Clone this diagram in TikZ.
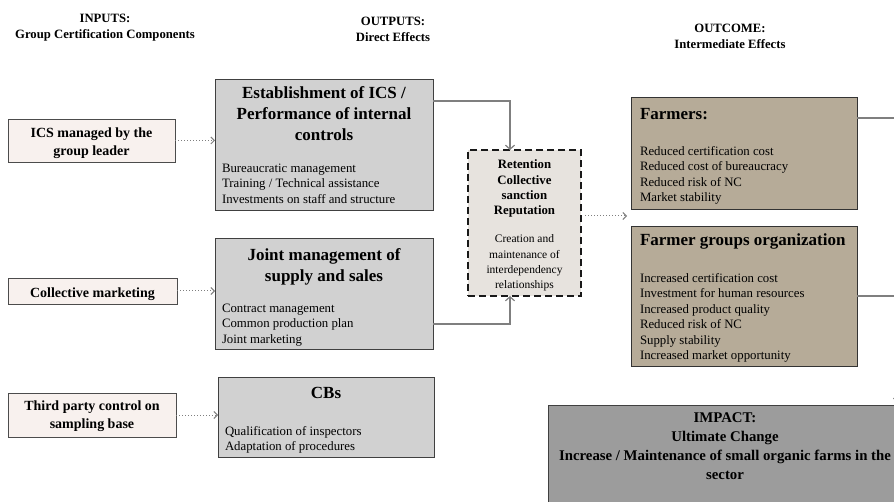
\documentclass[tikz,border=0pt]{standalone}
\usepackage{fontspec}
\setmainfont{Liberation Serif}
\usetikzlibrary{arrows.meta,calc}
\definecolor{inpfill}{HTML}{F8F1EE}
\definecolor{outfill}{HTML}{D1D1D1}
\definecolor{retfill}{HTML}{E7E3DE}
\definecolor{farmfill}{HTML}{B6AB98}
\definecolor{impfill}{HTML}{9C9C9C}
\definecolor{linegray}{HTML}{7F7F7F}
\begin{document}
\begin{tikzpicture}[x=1pt,y=-1pt,
  every node/.style={inner sep=0pt, outer sep=0pt},
  inbox/.style={draw=black!70, fill=inpfill, line width=0.9pt},
  intxt/.style={align=center, font=\fontsize{14}{18}\selectfont\bfseries},
  outbox/.style={draw=black!75, fill=outfill, line width=0.9pt},
  retbox/.style={draw=black!90, fill=retfill, line width=1.6pt, dash pattern=on 7pt off 4pt},
  farmbox/.style={draw=black!80, fill=farmfill, line width=0.9pt},
  impbox/.style={draw=black!75, fill=impfill, line width=0.9pt},
  ttl/.style={font=\fontsize{17}{21}\selectfont\bfseries, align=center},
  bodytxt/.style={font=\fontsize{12.8}{15.5}\selectfont, align=left},
  rettl/.style={font=\fontsize{12.8}{15.3}\selectfont\bfseries, align=center},
  retbody/.style={font=\fontsize{11.5}{15.3}\selectfont, align=center},
  hdr/.style={font=\fontsize{12.7}{16}\selectfont\bfseries, align=center},
  imptxt/.style={font=\fontsize{14.8}{19}\selectfont\bfseries, align=center},
  conn/.style={draw=linegray, line width=1.2pt, -{Straight Barb[length=4pt,width=9pt]}},
  plain/.style={draw=linegray, line width=1.2pt},
  dotarr/.style={draw=linegray, line width=1pt, dotted, -{Straight Barb[length=3.5pt,width=7pt]}},
]
\path[use as bounding box, clip] (0,0) rectangle (894,502);

% headers
\node[hdr] (hin) at (105,28) {INPUTS:\\Group Certification Components};
\node[hdr] (hout) at (393,29) {OUTPUTS:\\Direct Effects};
\node[hdr] (hoc) at (730,36) {OUTCOME:\\Intermediate Effects};

% inputs
\node[inbox, minimum width=167pt, minimum height=43pt] (ics) at (91.5,140.5) {};
\node[intxt] (icst) at (91.5,143) {ICS managed by the\\group leader};
\node[inbox, minimum width=169pt, minimum height=26pt] (coll) at (92.5,291) {};
\node[intxt] (collt) at (92.5,294) {Collective marketing};
\node[inbox, minimum width=168pt, minimum height=44pt] (third) at (92,415) {};
\node[intxt] (thirdt) at (92,416.5) {Third party control on\\sampling base};

% outputs
\node[outbox, minimum width=218pt, minimum height=131pt] (est) at (324,144.5) {};
\node[ttl, anchor=north] (estt) at (324,87) {Establishment of ICS /\\Performance of internal\\controls};
\node[bodytxt, anchor=north west] (estb) at (222,164) {Bureaucratic management\\Training / Technical assistance\\Investments on staff and structure};

\node[outbox, minimum width=218pt, minimum height=111pt] (joint) at (324,293.5) {};
\node[ttl, anchor=north] (jointt) at (324,249) {Joint management of\\supply and sales};
\node[bodytxt, anchor=north west] (jointb) at (222,304) {Contract management\\Common production plan\\Joint marketing};

\node[outbox, minimum width=216pt, minimum height=80pt] (cbs) at (326,417) {};
\node[ttl, anchor=north] (cbst) at (326,387) {CBs};
\node[bodytxt, anchor=north west] (cbsb) at (225,426) {Qualification of inspectors\\Adaptation of procedures};

% retention
\node[retbox, minimum width=113pt, minimum height=146pt] (ret) at (524.5,223) {};
\node[rettl, anchor=north] (rett) at (524.5,160) {Retention\\Collective\\sanction\\Reputation};
\node[retbody, anchor=north] (retb) at (524.5,235) {Creation and\\maintenance of\\interdependency\\relationships};

% outcomes
\node[farmbox, minimum width=226pt, minimum height=112pt] (farm) at (744,153) {};
\node[ttl, anchor=north west, align=left] (farmt) at (640,108) {Farmers:};
\node[bodytxt, anchor=north west] (farmb) at (640,146) {Reduced certification cost\\Reduced cost of bureaucracy\\Reduced risk of NC\\Market stability};

\node[farmbox, minimum width=226pt, minimum height=140pt] (grp) at (744,296) {};
\node[ttl, anchor=north west, align=left] (grpt) at (640,234) {Farmer groups organization};
\node[bodytxt, anchor=north west] (grpb) at (640,273) {Increased certification cost\\Investment for human resources\\Increased product quality\\Reduced risk of NC\\Supply stability\\Increased market opportunity};

% impact
\node[impbox, minimum width=357pt, minimum height=110pt] (imp) at (726.5,460) {};
\node[imptxt, anchor=north] (impt) at (725,413) {IMPACT:\\Ultimate Change\\Increase / Maintenance of small organic farms in the\\sector};

% connectors
\draw[dotarr] (ics.east) -- (ics.east -| est.west);
\draw[dotarr] (coll.east) -- (coll.east -| joint.west);
\draw[dotarr] (third.east) -- (third.east -| cbs.west);
\draw[conn] (est.east |- 0,101) -| ([xshift=-14.5pt]ret.north);
\draw[conn] (joint.east |- 0,324) -| ([xshift=-14.5pt]ret.south);
\coordinate (oc) at (627,216);
\draw[dotarr] ([xshift=4pt]ret.east |- oc) -- (oc);
\coordinate (rc) at (898,403);
\draw[plain] (farm.east |- 0,118) -| (rc |- 0,118);
\draw[conn] (rc |- 0,118) -- (rc);
\draw[plain] (grp.east |- 0,296) -- (rc |- 0,296);
\end{tikzpicture}
\end{document}
